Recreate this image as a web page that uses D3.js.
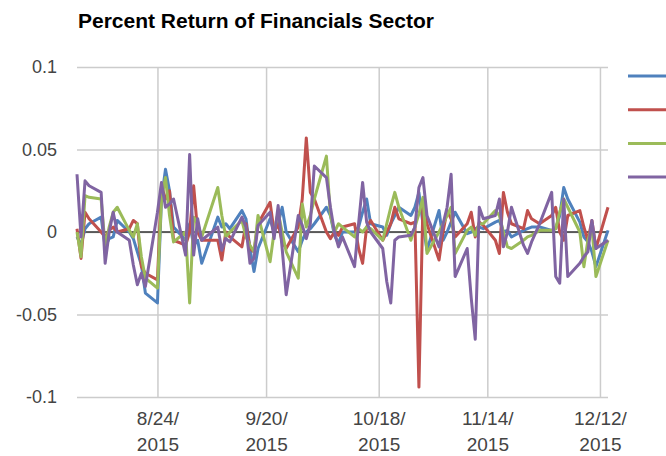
<!DOCTYPE html>
<html lang="en">
<head>
    <meta charset="UTF-8">
    <title>Percent Return of Financials Sector</title>
    <style>
        body {
            margin: 0;
            background: #fff;
        }

        svg text {
            font-family: "Liberation Sans", Arial, sans-serif;
        }

        .grid line {
            stroke: #cccccc;
            stroke-width: 1.5px;
        }

        .tick-label {
            font-size: 18px;
            fill: #444;
        }

        .x-label {
            font-size: 19px;
        }

        .title {
            font-size: 21px;
            font-weight: bold;
            fill: #000;
        }

        .series {
            fill: none;
            stroke-width: 3px;
            stroke-linejoin: round;
        }
    </style>
</head>
<body>
<div id="chart"></div>

<script src="https://cdn.jsdelivr.net/npm/d3@7"></script>
<script>

    // trading days shown on the chart
    var dates = [
        "2015-08-04", "2015-08-05", "2015-08-06", "2015-08-07",
        "2015-08-10", "2015-08-11", "2015-08-12", "2015-08-13", "2015-08-14",
        "2015-08-17", "2015-08-18", "2015-08-19", "2015-08-20", "2015-08-21",
        "2015-08-24", "2015-08-25", "2015-08-26", "2015-08-27", "2015-08-28",
        "2015-08-31", "2015-09-01", "2015-09-02", "2015-09-03", "2015-09-04",
        "2015-09-08", "2015-09-09", "2015-09-10", "2015-09-11",
        "2015-09-14", "2015-09-15", "2015-09-16", "2015-09-17", "2015-09-18",
        "2015-09-21", "2015-09-22", "2015-09-23", "2015-09-24", "2015-09-25",
        "2015-09-28", "2015-09-29", "2015-09-30", "2015-10-01", "2015-10-02",
        "2015-10-05", "2015-10-06", "2015-10-07", "2015-10-08", "2015-10-09",
        "2015-10-12", "2015-10-13", "2015-10-14", "2015-10-15", "2015-10-16",
        "2015-10-19", "2015-10-20", "2015-10-21", "2015-10-22", "2015-10-23",
        "2015-10-26", "2015-10-27", "2015-10-28", "2015-10-29", "2015-10-30",
        "2015-11-02", "2015-11-03", "2015-11-04", "2015-11-05", "2015-11-06",
        "2015-11-09", "2015-11-10", "2015-11-11", "2015-11-12", "2015-11-13",
        "2015-11-16", "2015-11-17", "2015-11-18", "2015-11-19", "2015-11-20",
        "2015-11-23", "2015-11-24", "2015-11-25", "2015-11-27",
        "2015-11-30", "2015-12-01", "2015-12-02", "2015-12-03", "2015-12-04",
        "2015-12-07", "2015-12-08", "2015-12-09", "2015-12-10", "2015-12-11",
        "2015-12-14"
    ]

    var series1 = [
        -0.003, -0.008, 0.002, 0.005,
        0.009, -0.009, -0.004, -0.003, 0.007,
        0.0, -0.004, -0.012, -0.02, -0.037,
        -0.043, 0.02, 0.038, 0.025, 0.003,
        -0.005, 0.005, -0.008, -0.005, -0.019,
        0.009, 0.003, 0.005, 0.002,
        0.013, 0.008, -0.01, -0.024, -0.01,
        0.008, 0.0, 0.005, 0.015, 0.0,
        -0.012, -0.005, 0.0, 0.002, 0.005,
        0.015, 0.01, -0.002, -0.007, 0.0,
        0.0, 0.003, 0.012, 0.02, 0.005,
        0.003, -0.002, 0.005, 0.01, 0.015,
        0.01, 0.015, 0.024, 0.005, -0.011,
        0.013, -0.005, 0.0, 0.006, 0.012,
        -0.001, 0.0, 0.002, 0.003, 0.002,
        0.006, 0.007, 0.0, 0.001, -0.003,
        0.001, 0.002, 0.003, 0.003,
        0.001, 0.002, 0.01, 0.027, 0.02,
        0.006, -0.003, -0.006, -0.012, -0.021,
        0.001
    ]

    var series2 = [
        0.002, -0.016, 0.012, 0.008,
        0.0, -0.003, 0.001, 0.003, 0.0,
        0.002, 0.007, 0.005, -0.021, -0.025,
        -0.029, 0.028, 0.02, 0.025, -0.005,
        -0.008, 0.0, 0.028, 0.0, -0.005,
        -0.005, -0.017, 0.0, -0.003,
        -0.009, 0.005, -0.01, -0.012, 0.005,
        0.018, 0.0, 0.005, -0.006, -0.01,
        0.003, 0.02, 0.057, 0.024, 0.02,
        0.0, -0.004, 0.0, -0.002, 0.003,
        0.005, -0.01, -0.019, 0.003, 0.007,
        -0.005, 0.0, 0.005, 0.015, 0.008,
        0.005, 0.006, -0.094, 0.018, 0.005,
        -0.017, 0.0, 0.013, 0.008, -0.003,
        0.005, 0.012, -0.003, 0.006, 0.004,
        -0.005, -0.013, 0.024, 0.012, 0.005,
        0.002, 0.013, 0.008, 0.005,
        0.01, 0.015, 0.0, -0.005, 0.01,
        0.013, 0.003, -0.005, 0.007, -0.01,
        0.015
    ]

    var series3 = [
        0.0, -0.015, 0.022, 0.021,
        0.02, -0.009, 0.003, 0.012, 0.015,
        0.001, -0.003, 0.005, -0.015, -0.028,
        -0.034, 0.02, 0.033, 0.01, -0.006,
        0.0, -0.043, 0.009, 0.005, -0.003,
        0.027, 0.01, -0.003, 0.0,
        0.007, -0.003, -0.008, -0.012, 0.01,
        -0.018, 0.0, 0.012, 0.0, -0.012,
        -0.028, 0.017, 0.003, 0.01, 0.02,
        0.046, 0.01, 0.0, 0.005, 0.003,
        -0.003, 0.002, 0.0, 0.003, 0.002,
        -0.005, 0.005, 0.015, 0.024, 0.015,
        -0.005, 0.003, 0.011, 0.021, -0.013,
        0.0, 0.005, 0.01, 0.015, -0.013,
        0.001, 0.003, -0.002, 0.005, 0.005,
        0.013, 0.01, 0.0, -0.009, -0.01,
        -0.005, -0.003, -0.002, 0.001,
        0.001, 0.002, 0.012, 0.02, 0.015,
        0.0, -0.021, -0.005, 0.003, -0.027,
        -0.005
    ]

    var series4 = [
        0.035, -0.003, 0.031, 0.028,
        0.024, -0.019, 0.0, 0.012, 0.0,
        -0.005, -0.02, -0.032, -0.025, -0.033,
        0.012, 0.03, 0.015, 0.017, 0.02,
        -0.014, 0.047, -0.014, 0.008, -0.005,
        0.003, -0.011, -0.004, -0.006,
        0.009, 0.003, -0.019, -0.016, 0.004,
        0.012, -0.004, 0.016, -0.01, -0.038,
        0.01, 0.004, -0.004, 0.005, 0.04,
        0.033, 0.015, 0.0, -0.009, -0.003,
        -0.021, 0.005, 0.03, 0.006, 0.0,
        -0.01, -0.03, -0.043, -0.005, -0.003,
        -0.002, 0.003, 0.027, 0.033, 0.01,
        -0.009, 0.005, 0.015, 0.035, -0.027,
        -0.01, -0.04, -0.065, 0.015, 0.008,
        0.01, 0.02, -0.009, 0.0, 0.015,
        -0.008, -0.013, -0.006, 0.005,
        0.024, -0.027, -0.031, 0.02, -0.027,
        -0.019, -0.015, -0.012, 0.007, -0.01,
        -0.005
    ]

    var yTicks = [-0.1, -0.05, 0, 0.05, 0.1]
    var yTickLabels = ["-0.1", "-0.05", "0", "0.05", "0.1"]
    var xTicks = ["2015-08-24", "2015-09-20", "2015-10-18", "2015-11-14", "2015-12-12"]
    var xTickLabels = [["8/24/", "2015"], ["9/20/", "2015"], ["10/18/", "2015"], ["11/14/", "2015"], ["12/12/", "2015"]]

    var colors = ["#4f81bd", "#c0504d", "#9bbb59", "#8064a2"]

    var width = 666, height = 456
    var plotLeft = 77, plotRight = 608, plotTop = 67, plotBottom = 397

    var parse = d3.timeParse("%Y-%m-%d")
    var days = dates.map(parse)

    var svg = d3.select("#chart").append("svg")
        .attr("width", width)
        .attr("height", height)

    var x = d3.scaleTime()
        .domain(d3.extent(days))
        .range([plotLeft, plotRight])

    var y = d3.scaleLinear()
        .domain([-0.1, 0.1])
        .range([plotBottom, plotTop])

    svg.append("text")
        .attr("class", "title")
        .attr("x", 78)
        .attr("y", 28)
        .text("Percent Return of Financials Sector")

    // horizontal grid + y labels
    var yAxis = svg.append("g")
        .attr("class", "grid")
        .attr("transform", "translate(" + plotLeft + ",0)")
        .call(d3.axisLeft(y)
            .tickValues(yTicks)
            .tickSize(-(plotRight - plotLeft))
            .tickPadding(20)
            .tickFormat(function (d, i) { return yTickLabels[i]; }))
    yAxis.select(".domain").remove()
    yAxis.selectAll("text")
        .attr("class", "tick-label")
        .attr("font-family", null)
        .attr("font-size", null)
        .attr("fill", null)

    // vertical grid
    var xAxis = svg.append("g")
        .attr("class", "grid")
        .attr("transform", "translate(0," + plotBottom + ")")
        .call(d3.axisBottom(x)
            .tickValues(xTicks.map(parse))
            .tickSize(-(plotBottom - plotTop))
            .tickFormat(""))
    xAxis.select(".domain").remove()

    xAxis.selectAll(".tick").each(function (d, i) {
        var t = d3.select(this).append("text")
            .attr("class", "tick-label x-label")
            .attr("text-anchor", "middle")
            .attr("y", 28)
        t.append("tspan").attr("x", 0).text(xTickLabels[i][0])
        t.append("tspan").attr("x", 0).attr("dy", 26).text(xTickLabels[i][1])
    })

    // zero baseline
    svg.append("line")
        .attr("x1", plotLeft)
        .attr("x2", plotRight)
        .attr("y1", y(0))
        .attr("y2", y(0))
        .attr("stroke", "#333")
        .attr("stroke-width", 1.5)

    var line = d3.line()
        .x(function (d, i) { return x(days[i]); })
        .y(function (d) { return y(d); })

    var allSeries = [series1, series2, series3, series4]

    svg.append("g").selectAll("path")
        .data(allSeries)
        .enter().append("path")
        .attr("class", "series")
        .attr("stroke", function (d, i) { return colors[i]; })
        .attr("d", line)

    // legend swatches (labels fall outside the frame)
    svg.append("g").selectAll("line")
        .data(allSeries)
        .enter().append("line")
        .attr("x1", 628)
        .attr("x2", 670)
        .attr("y1", function (d, i) { return 76 + i * 33.7; })
        .attr("y2", function (d, i) { return 76 + i * 33.7; })
        .attr("stroke", function (d, i) { return colors[i]; })
        .attr("stroke-width", 3)

</script>
</body>
</html>
